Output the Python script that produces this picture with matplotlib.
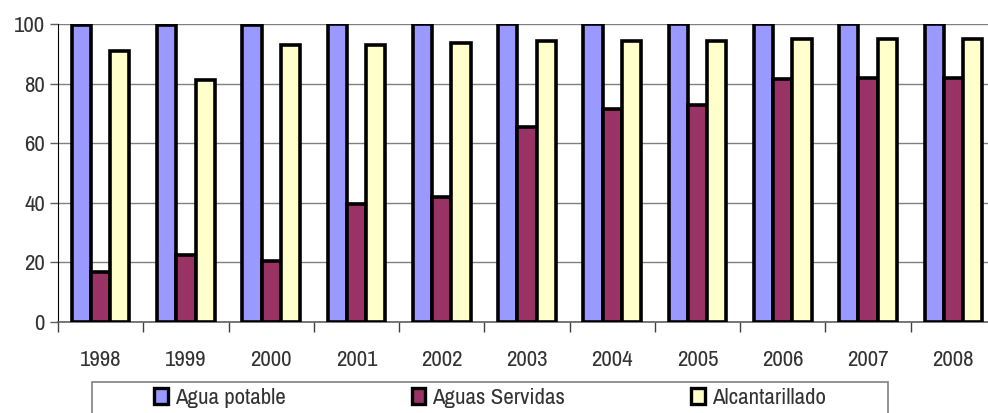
import numpy as np
import matplotlib
matplotlib.use("Agg")
import matplotlib.pyplot as plt
from matplotlib.patches import Rectangle, Patch

plt.rcParams['font.family'] = ['Archivo Narrow', 'Liberation Sans', 'DejaVu Sans']

years = ['1998', '1999', '2000', '2001', '2002', '2003', '2004', '2005', '2006', '2007', '2008']
agua_potable = [99.5, 99.5, 99.5, 100, 100, 100, 100, 100, 100, 100, 100]
aguas_servidas = [16.7, 22.5, 20.5, 39.5, 41.9, 65.3, 71.4, 72.9, 81.5, 82.0, 82.0]
alcantarillado = [90.8, 81.3, 92.9, 92.9, 93.6, 94.2, 94.2, 94.2, 94.9, 94.9, 94.9]

series = [
    ('Agua potable', agua_potable, '#9999FF'),
    ('Aguas Servidas', aguas_servidas, '#993366'),
    ('Alcantarillado', alcantarillado, '#FFFFCC'),
]

fig = plt.figure(figsize=(9.88, 4.13), dpi=100)
ax = fig.add_axes([58 / 988, 91 / 413, 938 / 988, 298 / 413])

x = np.arange(len(years))
w = 0.225
for i, (name, vals, col) in enumerate(series):
    ax.bar(x + (i - 1) * w, vals, w, color=col, edgecolor='black',
           linewidth=2.6, label=name, zorder=3)

ax.set_xlim(-0.5, len(years) - 0.5)
ax.set_ylim(0, 100)
ax.set_yticks(range(0, 101, 20))
ax.yaxis.grid(True, color='#808080', linewidth=1.0, zorder=0)

# year labels sit on minor ticks, the marks go between groups
ax.set_xticks(np.arange(-0.5, len(years), 1.0))
ax.set_xticklabels([])
ax.set_xticks(x, minor=True)
ax.set_xticklabels(years, minor=True)
ax.tick_params(axis='x', which='major', direction='out', length=7, width=1, color='#404040')
ax.tick_params(axis='x', which='minor', length=0, pad=20, labelsize=16.5, labelcolor='#333333')
ax.tick_params(axis='y', direction='out', length=6, width=1, color='#606060',
               pad=3.5, labelsize=16.5, labelcolor='#333333')

for s in ['top', 'right']:
    ax.spines[s].set_visible(False)
ax.spines['left'].set_color('black')
ax.spines['bottom'].set_color('#606060')
ax.spines['bottom'].set_linewidth(1.2)

# legend frame runs off the bottom edge
fig.patches.append(Rectangle((92 / 988, -0.05), (888 - 92) / 988, (413 - 381.5) / 413 + 0.05,
                             transform=fig.transFigure, fill=False,
                             edgecolor='#808080', linewidth=1.2))
handles = [Patch(facecolor=c, edgecolor='black', linewidth=2.4, label=n) for n, _, c in series]
fig.legend(handles=handles, loc='center', bbox_to_anchor=(490 / 988, 1 - 398 / 413),
           ncol=3, frameon=False, fontsize=16.5, handlelength=0.6, handleheight=0.65,
           handletextpad=0.3, columnspacing=5.5, borderpad=0, labelcolor='#333333')

fig.savefig('out.png', dpi=100)
